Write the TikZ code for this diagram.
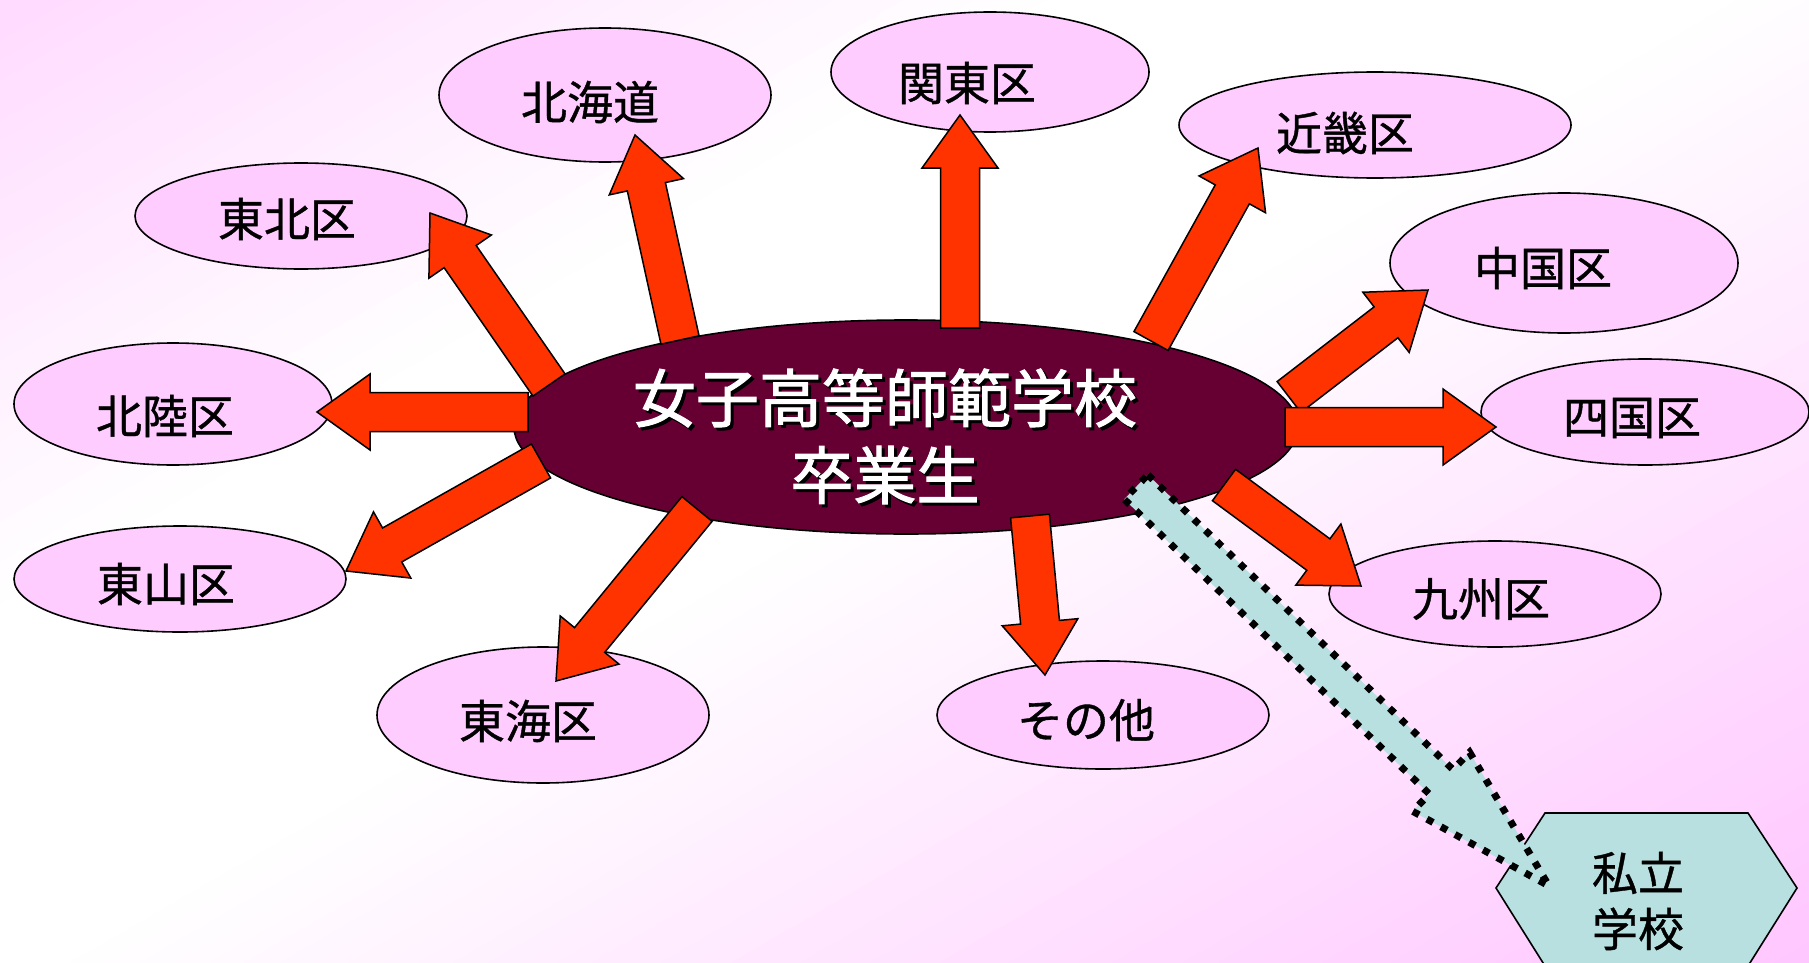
\documentclass[tikz,border=0pt]{standalone}
\usepackage{fontspec}
\newfontfamily\jp{Noto Sans CJK JP}[FakeBold=0.8]
\newfontfamily\jpt{Noto Sans CJK JP}[FakeBold=1.6]
\usetikzlibrary{calc,shapes.geometric}
\definecolor{bgA}{RGB}{255,218,255}
\definecolor{bgB}{RGB}{255,198,255}
\definecolor{bgM}{RGB}{255,226,255}
\definecolor{ellfill}{RGB}{255,204,255}
\definecolor{gradfill}{RGB}{102,0,51}
\definecolor{arrred}{RGB}{255,51,0}
\definecolor{hexfill}{RGB}{184,224,224}
% #1 style, #2 tail, #3 tip, #4 shaft half width, #5 head half width, #6 head length
\newcommand\blockarrow[6]{%
 \draw[#1] ($(#2)!#4!90:(#3)$) -- ($(#3)!#6!(#2)!#4!-90:(#2)$) -- ($(#3)!#6!(#2)!#5!-90:(#2)$) -- (#3) -- ($(#3)!#6!(#2)!#5!90:(#2)$) -- ($(#3)!#6!(#2)!#4!90:(#2)$) -- ($(#2)!#4!-90:(#3)$) -- cycle;}
% background stripe: #1 colour, #2 step index (0..99)
\newcommand\bgstripe[2]{%
 \pgfmathsetmacro\pa{#2*17.38}\pgfmathsetmacro\pb{(#2+1)*17.38+1}%
 \fill[#1] ({0.5*\pa+1732},{0.866*\pa-1000}) -- ({0.5*\pa-1732},{0.866*\pa+1000}) -- ({0.5*\pb-1732},{0.866*\pb+1000}) -- ({0.5*\pb+1732},{0.866*\pb-1000}) -- cycle;}
\tikzset{
 ell/.style={ellipse, draw=black, line width=1.6pt, fill=ellfill, inner sep=0pt},
 lbl/.style={font=\jp\fontsize{46}{56}\selectfont, text=black, inner sep=0pt, align=center},
 ttl/.style={font=\jpt\fontsize{63}{70}\selectfont, inner sep=0pt},
 redarrow/.style={fill=arrred, draw=black, line width=1.5pt, line join=miter},
 dotarrow/.style={fill=hexfill, draw=black, line width=7pt, dash pattern=on 7pt off 9pt},
 hexstyle/.style={fill=hexfill, draw=black, line width=1.6pt},
}
\begin{document}
\begin{tikzpicture}[x=1pt,y=-1pt]
\useasboundingbox (0,0) rectangle (1809,963);
\clip (0,0) rectangle (1809,963);
% background: diagonal gradient, pink corners, white middle
\fill[white] (0,0) rectangle (1809,963);
\foreach \i in {0,...,29}{\pgfmathsetmacro\w{(29.5-\i)/30*100}\bgstripe{bgA!\w!white}{\i}}
\foreach \i in {50,...,74}{\pgfmathsetmacro\w{(\i+0.5-50)/25*100}\bgstripe{bgM!\w!white}{\i}}
\foreach \i in {75,...,99}{\pgfmathsetmacro\w{(\i+0.5-75)/25*100}\bgstripe{bgB!\w!bgM}{\i}}

% region ellipses
\node[ell, minimum width=332pt, minimum height=134pt] (hok) at (605,95) {};
\node[ell, minimum width=318pt, minimum height=120pt] (kan) at (990,72) {};
\node[ell, minimum width=392pt, minimum height=106pt] (kin) at (1375,125) {};
\node[ell, minimum width=332pt, minimum height=106pt] (toh) at (301,216) {};
\node[ell, minimum width=348pt, minimum height=140pt] (chu) at (1564,263) {};
\node[ell, minimum width=318pt, minimum height=122pt] (hkr) at (173,404) {};
\node[ell, minimum width=328pt, minimum height=106pt] (shi) at (1645,412) {};
\node[ell, minimum width=332pt, minimum height=106pt] (tsn) at (180,579) {};
\node[ell, minimum width=332pt, minimum height=106pt] (kyu) at (1495,594) {};
\node[ell, minimum width=332pt, minimum height=136pt] (tok) at (543,715) {};
\node[ell, minimum width=332pt, minimum height=108pt] (oth) at (1103,715) {};

% private school hexagon
\draw[hexstyle] (1496,888) -- (1545,813) -- (1748,813) -- (1797,888) -- (1748,966) -- (1545,966) -- cycle;

% centre
\node[ellipse, draw=black, line width=1.6pt, fill=gradfill, inner sep=0pt, minimum width=784pt, minimum height=214pt] (grad) at (906,427) {};

% labels
\node[lbl] (lhok) at (590,102) {北海道};
\node[lbl] (lkan) at (967,83) {関東区};
\node[lbl] (lkin) at (1345,133) {近畿区};
\node[lbl] (ltoh) at (287,219) {東北区};
\node[lbl] (lchu) at (1543,268) {中国区};
\node[lbl] (lhkr) at (165,416) {北陸区};
\node[lbl] (lshi) at (1632,418) {四国区};
\node[lbl] (ltsn) at (166,584) {東山区};
\node[lbl] (lkyu) at (1481,599) {九州区};
\node[lbl] (ltok) at (528,721) {東海区};
\node[lbl] (loth) at (1086,720) {その他};
\node[lbl] (priv) at (1638,901) {私立\\学校};

\node[ttl, text=black] at (888,401) {女子高等師範学校};
\node[ttl, text=white] (t1) at (885,398) {女子高等師範学校};
\node[ttl, text=black] at (888,478) {卒業生};
\node[ttl, text=white] (t2) at (885,475) {卒業生};

% arrow end points
\coordinate (a1t) at (680,340);  \coordinate (a1h) at (635,135);
\coordinate (a2t) at (960,328);  \coordinate (a2h) at (960,115);
\coordinate (a3t) at (1151,341); \coordinate (a3h) at (1258,148);
\coordinate (a4t) at (549,385);  \coordinate (a4h) at (430,213);
\coordinate (a5t) at (1289,397); \coordinate (a5h) at (1428,290);
\coordinate (a6t) at (528,412);  \coordinate (a6h) at (317,412);
\coordinate (a7t) at (1285,427); \coordinate (a7h) at (1496,427);
\coordinate (a8t) at (541,461);  \coordinate (a8h) at (346,571);
\coordinate (a9t) at (697,509);  \coordinate (a9h) at (556,681);
\coordinate (a10t) at (1030,516); \coordinate (a10h) at (1045,675);
\coordinate (a11t) at (1224,485); \coordinate (a11h) at (1361,586);
\coordinate (a12t) at (1136,487); \coordinate (a12h) at (1549,886);

\blockarrow{redarrow}{a1t}{a1h}{19.5pt}{38pt}{53pt}
\blockarrow{redarrow}{a2t}{a2h}{19.5pt}{38pt}{53pt}
\blockarrow{redarrow}{a3t}{a3h}{19.5pt}{38pt}{53pt}
\blockarrow{redarrow}{a4t}{a4h}{19.5pt}{38pt}{53pt}
\blockarrow{redarrow}{a5t}{a5h}{19.5pt}{38pt}{53pt}
\blockarrow{redarrow}{a6t}{a6h}{19.5pt}{38pt}{53pt}
\blockarrow{redarrow}{a7t}{a7h}{19.5pt}{38pt}{53pt}
\blockarrow{redarrow}{a8t}{a8h}{19.5pt}{38pt}{53pt}
\blockarrow{redarrow}{a9t}{a9h}{19.5pt}{38pt}{53pt}
\blockarrow{redarrow}{a10t}{a10h}{19.5pt}{38pt}{53pt}
\blockarrow{redarrow}{a11t}{a11h}{19.5pt}{38pt}{53pt}
\blockarrow{dotarrow}{a12t}{a12h}{17pt}{41pt}{150pt}
\end{tikzpicture}
\end{document}
